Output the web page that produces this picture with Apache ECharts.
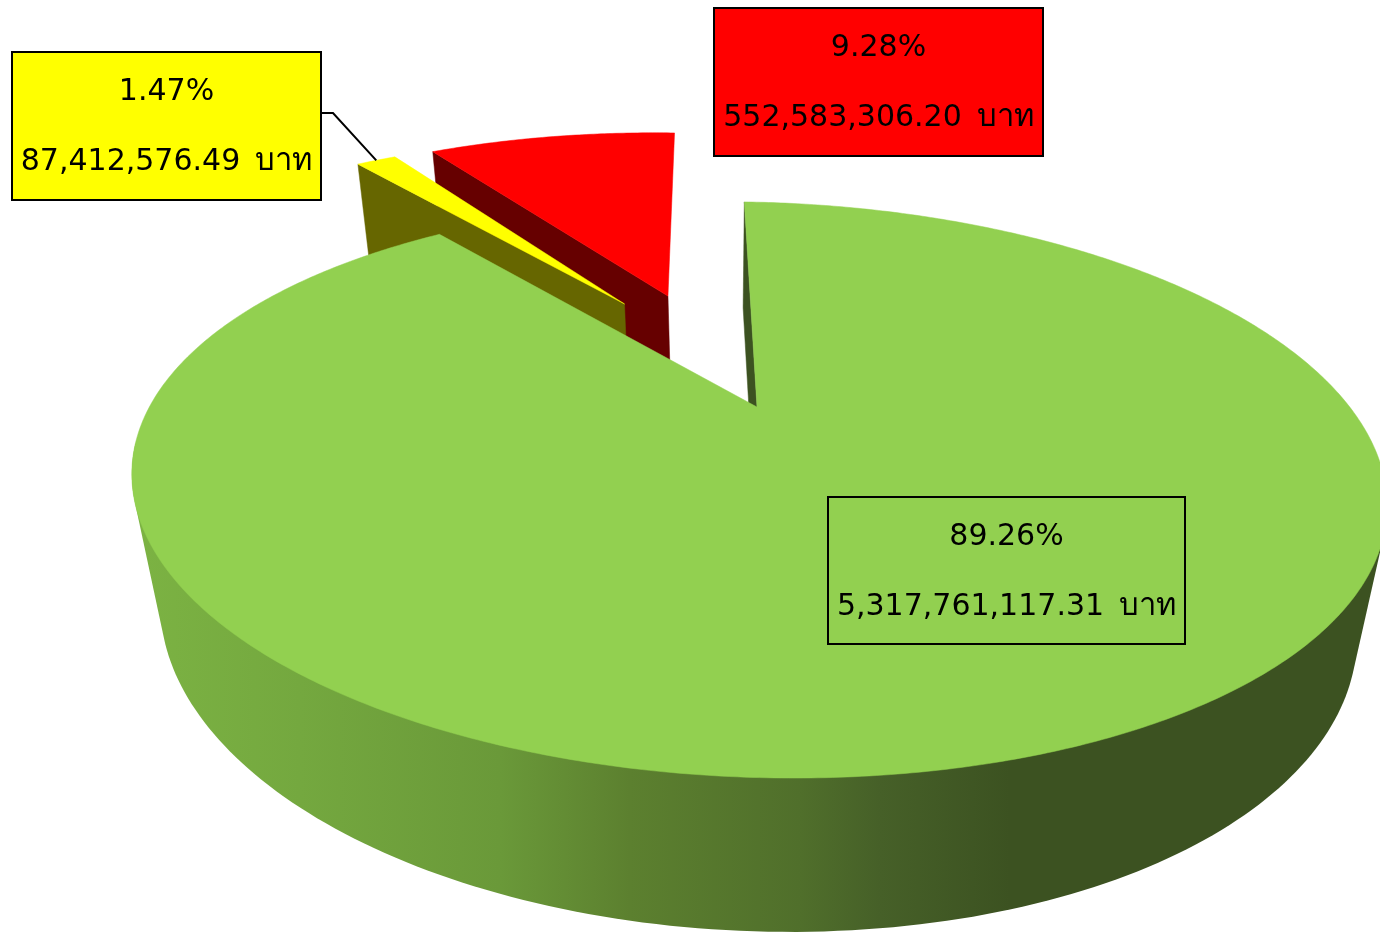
<!DOCTYPE html>
<html><head><meta charset="utf-8">
<style>html,body{margin:0;padding:0;background:#fff;overflow:hidden}#c{width:1380px;height:932px}</style>
<script src="https://cdn.jsdelivr.net/npm/echarts@6/dist/echarts.min.js"></script>
</head><body><div id="c"></div>
<script>
// Data
const categories = ['ก้อนใหญ่', 'ก้อนเหลือง', 'ก้อนแดง'];
const values = [5317761117.31, 87412576.49, 552583306.20];
const percentLabels = ['89.26%', '1.47%', '9.28%'];
const amountLabels = ['5,317,761,117.31', '87,412,576.49', '552,583,306.20'];
const unitLabel = 'บาท';

// Styles / layout
const topColors = ['#92D050', '#FFFF00', '#FF0000'];
const wallColors = ['#3C5221', '#666600', '#660000'];
const explode = [[0, 0], [-0.242, 0.428], [-0.162, 0.47]];
const boxes = [[828, 497, 357, 147], [12, 52, 309, 148], [714, 8, 329, 148]];
const boxFill = ['transparent', '#FFFF00', '#FF0000'];
const shearY = 0.019, shearX = 0.03, startDeg = -0.8;
const topPlane = { cx: 757, cy: 407, rx: 601, ry: 264, k: 0.288 };
const pieFloor = { cx: 756, cy: 530, rx: 573, ry: 286, k: 0.288 };
const sliceFloor = { cx: 757, cy: 585, rx: 567, ry: 249.5, k: 0.288 };
const FONT = '"DejaVu Sans","Noto Sans","Noto Sans CJK SC",sans-serif';

const total = values.reduce((a, b) => a + b, 0);
function project(u, v, p) {
  const w = 1 + p.k * v;
  const x0 = p.rx * u / w;
  const y0 = -p.ry * v / w;
  return [p.cx + x0 + shearX * y0, p.cy + y0 + shearY * x0];
}
function rim(deg, off, p) {
  const a = deg * Math.PI / 180;
  return project(Math.sin(a) + off[0], Math.cos(a) + off[1], p);
}
function hull(pts) {
  const p = pts.slice().sort((a, b) => a[0] - b[0] || a[1] - b[1]);
  const cross = (o, a, b) => (a[0] - o[0]) * (b[1] - o[1]) - (a[1] - o[1]) * (b[0] - o[0]);
  const lo = [], up = [];
  for (const q of p) { while (lo.length > 1 && cross(lo[lo.length - 2], lo[lo.length - 1], q) <= 0) lo.pop(); lo.push(q); }
  for (const q of p.slice().reverse()) { while (up.length > 1 && cross(up[up.length - 2], up[up.length - 1], q) <= 0) up.pop(); up.push(q); }
  return lo.slice(0, -1).concat(up.slice(0, -1));
}
function poly(points, fill, z2) {
  return { type: 'polygon', z2, shape: { points }, style: { fill, stroke: typeof fill === 'string' ? fill : null, lineWidth: typeof fill === 'string' ? 0.5 : 0 } };
}
const wallGradient = { type: 'linear', x: 130, y: 0, x2: 1380, y2: 0, global: true, colorStops: [
  { offset: 0, color: '#7CB343' }, { offset: 0.136, color: '#74A83F' }, { offset: 0.296, color: '#6A9939' },
  { offset: 0.4, color: '#5C802F' }, { offset: 0.536, color: '#506F2B' }, { offset: 0.6, color: '#466028' },
  { offset: 0.704, color: '#3C5221' }, { offset: 1, color: '#3C5221' } ] };

function renderItem(params, api) {
  const i = params.dataIndex;
  const val = api.value(1);
  let before = 0;
  for (let j = 0; j < i; j++) before += values[j];
  const a0 = startDeg + before / total * 360;
  const a1 = a0 + val / total * 360;
  const off = explode[i];
  const floor = i === 0 ? pieFloor : sliceFloor;
  const base = i === 0 ? 10 : i === 1 ? 6 : 2;
  const apexT = project(off[0], off[1], topPlane), apexB = project(off[0], off[1], floor);
  const children = [];
  const arc = [];
  const n = Math.max(4, Math.ceil((a1 - a0) / 0.5));
  for (let t = 0; t <= n; t++) arc.push(a0 + (a1 - a0) * t / n);
  // radial wall on the edge that faces the viewer
  children.push(poly([apexT, rim(a0, off, topPlane), rim(a0, off, floor), apexB], wallColors[i], base));
  if (i === 0) {
    const near = [];
    for (let d = 100; d <= 260; d += 1) { near.push(rim(d, off, topPlane)); near.push(rim(d, off, floor)); }
    children.push(poly(hull(near), wallGradient, base + 1));
  }
  children.push(poly([apexT].concat(arc.map(d => rim(d, off, topPlane))), topColors[i], base + 2));
  const b = boxes[i];
  children.push({ type: 'rect', z2: 30, shape: { x: b[0], y: b[1], width: b[2], height: b[3] },
    style: { fill: boxFill[i], stroke: '#000', lineWidth: 2 } });
  children.push({ type: 'text', z2: 31, style: { x: b[0] + b[2] / 2, y: b[1] + 40, text: percentLabels[i], fill: '#000',
    font: '30px ' + FONT, align: 'center', verticalAlign: 'middle' } });
  children.push({ type: 'text', z2: 31, style: { x: b[0] + b[2] / 2, y: b[1] + 110,
    text: '{n|' + amountLabels[i] + '}{t|' + unitLabel + '}', fill: '#000', align: 'center', verticalAlign: 'middle',
    rich: { n: { fontSize: 30, fontFamily: FONT, fill: '#000' },
            t: { fontSize: 31, fontFamily: FONT, fill: '#000', padding: [0, 0, 0, 15] } } } });
  if (i === 1) {
    const pin = rim((a0 + a1) / 2, off, topPlane);
    children.push({ type: 'polyline', z2: 29, shape: { points: [[b[0] + b[2], 113], [333, 113], [pin[0], pin[1]]] },
      style: { stroke: '#000', lineWidth: 2, fill: null } });
  }
  return { type: 'group', children };
}

const chart = echarts.init(document.getElementById('c'), null, { renderer: 'canvas' });
chart.setOption({
  animation: false,
  backgroundColor: '#fff',
  series: [{
    type: 'custom', coordinateSystem: 'none', silent: true, clip: false,
    renderItem,
    encode: { itemName: 0, value: 1 },
    data: categories.map((c, i) => [c, values[i]])
  }]
});
</script></body></html>
